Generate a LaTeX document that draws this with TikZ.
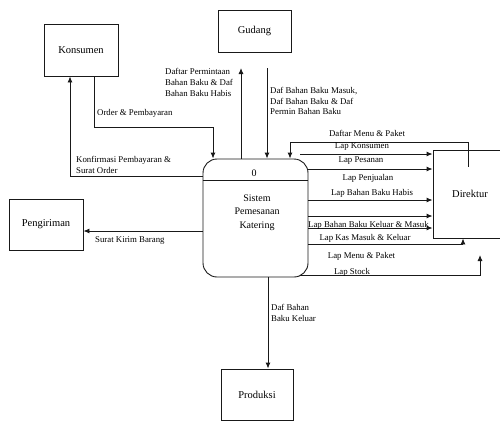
\documentclass[tikz,border=0pt]{standalone}
\usepackage{fontspec}
\setmainfont{Liberation Serif}
\usetikzlibrary{arrows.meta,calc}
\tikzset{
  ent/.style={draw=black!90,line width=0.9pt,minimum width=74pt,minimum height=52pt,inner sep=0pt,font=\fontsize{10.5}{12}\selectfont},
  arr/.style={draw=black!90,line width=0.9pt,-{Latex[length=6pt,width=5pt]}},
  ln/.style={draw=black!90,line width=0.9pt},
  lbl/.style={inner sep=0pt,font=\fontsize{8.8}{10.6}\selectfont,align=left},
}
\begin{document}
\begin{tikzpicture}[x=1pt,y=-1pt]
\useasboundingbox (0,0) rectangle (500,421);
\fill[white] (0,0) rectangle (500,421);
% entities
\node[ent] (konsumen) at (81,50) {Konsumen};
\node[ent,minimum width=73pt,minimum height=42pt] (gudang) at (254.5,31) {Gudang};
\node[ent,minimum width=74pt,minimum height=88pt] (direktur) at (470,194) {Direktur};
\node[ent,minimum width=74pt,minimum height=51pt] (pengiriman) at (46,224.5) {Pengiriman};
\node[ent,minimum width=72pt,minimum height=51pt] (produksi) at (257,394.5) {Produksi};
% process
\node[draw=black!90,line width=0.9pt,rounded corners=14pt,minimum width=105pt,minimum height=118pt,inner sep=0pt] (proc) at (255.5,218) {};
\draw[ln] ([yshift=-22pt]proc.north west) -- ([yshift=-22pt]proc.north east);
\node[inner sep=0pt,font=\fontsize{10}{12}\selectfont] (pnum) at (254,173) {0};
\node[inner sep=0pt,font=\fontsize{10}{13.5}\selectfont,align=center] (pname) at (257,212.5) {Sistem\\Pemesanan\\Katering};
% free ends
\coordinate (g1) at (241,68);
\coordinate (g2) at (267,68);
\coordinate (dm) at (468,142);
\coordinate (lk) at (300,154);
\coordinate (lp) at (307,169);
\coordinate (lh) at (308,200);
\coordinate (lx) at (308,216);
\coordinate (lm) at (308,228);
\coordinate (kas) at (308,244);
\coordinate (kasc) at (463,244);
\coordinate (st) at (300,275);
\coordinate (stc) at (480,275);
\coordinate (ste) at (480,255);
% Konsumen flows
\draw[arr] ([yshift=-18pt]proc.north west) -| ([xshift=-11pt]konsumen.south);
\draw[arr] ([xshift=13pt]konsumen.south) -- ++(0,51) -| ([xshift=-42.5pt]proc.north);
% Gudang flows
\draw[arr] ([xshift=-14.5pt]proc.north) -- (g1);
\draw[arr] (g2) -- (g2 |- proc.north);
% Direktur flows
\draw[arr] ([xshift=-2pt,yshift=-17pt]direktur.north) -- (dm) -| ([xshift=34.5pt]proc.north);
\draw[arr] (lk) -- (lk -| direktur.west);
\draw[arr] (lp) -- (lp -| direktur.west);
\draw[arr] (lh) -- (lh -| direktur.west);
\draw[arr] (lx) -- (lx -| direktur.west);
\draw[arr] (lm) -- (lm -| direktur.west);
\draw[arr] (kas) -- (kasc) -- (kasc |- direktur.south);
\draw[arr] (st) -- (stc) -- (ste);
% Pengiriman, Produksi
\draw[arr] ([yshift=-13pt]proc.west) -- ([yshift=-13pt]proc.west -| pengiriman.east);
\draw[arr] ([xshift=12.5pt]proc.south) -- ([xshift=12.5pt]proc.south |- produksi.north);
% labels
\node[lbl,anchor=west] (l1) at (97,113) {Order \& Pembayaran};
\node[lbl,anchor=west] (l2) at (76,165) {Konfirmasi Pembayaran \&\\Surat Order};
\node[lbl,anchor=west] (l3) at (165,82.5) {Daftar Permintaan\\Bahan Baku \& Daf\\Bahan Baku Habis};
\node[lbl,anchor=west] (l4) at (270,101) {Daf Bahan Baku Masuk,\\Daf Bahan Baku \& Daf\\Permin Bahan Baku};
\node[lbl] (l5) at (367,133) {Daftar Menu \& Paket};
\node[lbl] (l6) at (362,147) {Lap Konsumen};
\node[lbl] (l7) at (361,160.5) {Lap Pesanan};
\node[lbl] (l8) at (368,178.5) {Lap Penjualan};
\node[lbl] (l9) at (372,193) {Lap Bahan Baku Habis};
\node[lbl,anchor=west] (l10) at (308,225) {Lap Bahan Baku Keluar \& Masuk};
\node[lbl] (l11) at (365,238) {Lap Kas Masuk \& Keluar};
\node[lbl] (l12) at (361.5,256) {Lap Menu \& Paket};
\node[lbl] (l13) at (352,272) {Lap Stock};
\node[lbl,anchor=west] (l14) at (95,240.5) {Surat Kirim Barang};
\node[lbl,anchor=west] (l15) at (271,313) {Daf Bahan\\Baku Keluar};
\end{tikzpicture}
\end{document}
